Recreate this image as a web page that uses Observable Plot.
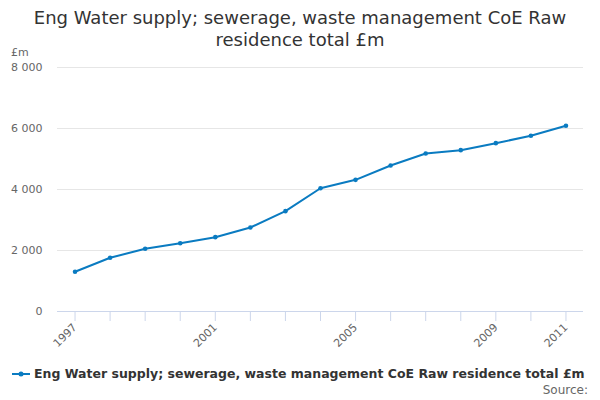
<!DOCTYPE html>
<html>
<head>
<meta charset="utf-8">
<script src="https://cdn.jsdelivr.net/npm/d3@7"></script>
<script src="https://cdn.jsdelivr.net/npm/@observablehq/plot@0.6"></script>
<style>
  body { margin: 0; background: #fff; font-family: "DejaVu Sans", sans-serif; }
  #wrap { position: relative; width: 600px; height: 400px; overflow: hidden; }
  #title { position: absolute; top: 7px; left: 0; width: 600px; text-align: center; font-size: 18px; line-height: 22px; color: #333; }
  #unit { position: absolute; top: 46px; left: 11px; font-size: 11px; color: #666; }
  #chart { position: absolute; top: 0; left: 0; }
  #legend { position: absolute; top: 366px; left: 12px; font-size: 12.5px; font-weight: bold; color: #333; display: flex; align-items: center; white-space: nowrap; }
  #source { position: absolute; top: 383px; right: 12px; font-size: 12px; color: #666; }
</style>
</head>
<body>
<div id="wrap">
  <div id="title">Eng Water supply; sewerage, waste management CoE Raw<br>residence total £m</div>
  <div id="chart"></div>
  <div id="unit">£m</div>
  <div id="legend"><svg width="20" height="10" style="margin-right:2px"><line x1="0" y1="5" x2="18" y2="5" stroke="#0a7bc1" stroke-width="2"/><circle cx="9" cy="5" r="2.5" fill="#0a7bc1"/></svg><span id="legendText"></span></div>
  <div id="source">Source:</div>
</div>
<script>
const years = [1997, 1998, 1999, 2000, 2001, 2002, 2003, 2004, 2005, 2006, 2007, 2008, 2009, 2010, 2011];
const values = [1302, 1761, 2056, 2240, 2437, 2754, 3290, 4040, 4317, 4787, 5180, 5290, 5519, 5760, 6088];
const yTicks = [0, 2000, 4000, 6000, 8000];
const xLabels = [1997, 2001, 2005, 2009, 2011];
const seriesName = "Eng Water supply; sewerage, waste management CoE Raw residence total £m";

document.getElementById("legendText").textContent = seriesName;

const data = years.map((y, i) => ({year: y, value: values[i]}));
const color = "#0a7bc1";
const fmt = v => d3.format(",")(v).replace(/,/g, " ");

const chart = Plot.plot({
  width: 600,
  height: 360,
  marginTop: 67,
  marginBottom: 49,
  marginLeft: 57,
  marginRight: 17,
  style: { fontFamily: "DejaVu Sans, sans-serif", fontSize: "11px", color: "#666", background: "transparent" },
  x: { domain: [1996.5, 2011.5] },
  y: { domain: [0, 8000] },
  marks: [
    Plot.gridY(yTicks, { stroke: "#e6e6e6", strokeOpacity: 1 }),
    Plot.axisY(yTicks, { tickSize: 0, tickPadding: 15, tickFormat: fmt, label: null, fill: "#666" }),
    Plot.ruleY([0], { stroke: "#ccd6eb", strokeWidth: 1 }),
    Plot.axisX(years, { tickSize: 10, stroke: "#ccd6eb", strokeOpacity: 1, tickRotate: -45, tickPadding: 4,
      tickFormat: d => xLabels.includes(d) ? String(d) : "", label: null, fill: "#666" }),
    Plot.line(data, { x: "year", y: "value", stroke: color, strokeWidth: 2 }),
    Plot.dot(data, { x: "year", y: "value", fill: color, r: 2.3 })
  ]
});
document.getElementById("chart").appendChild(chart);
</script>
</body>
</html>
